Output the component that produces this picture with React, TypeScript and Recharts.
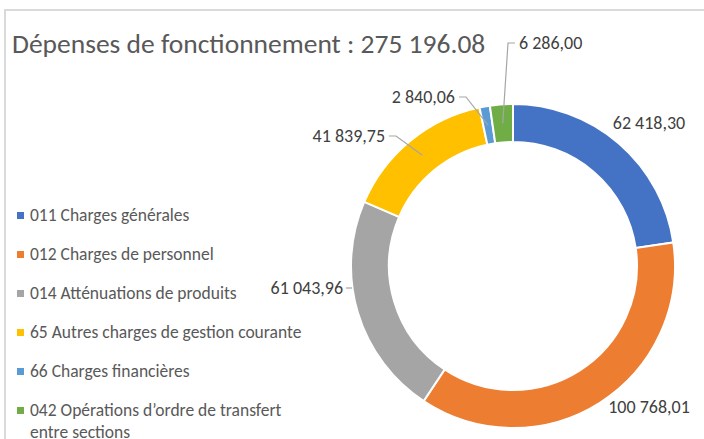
import { PieChart, Pie, Cell } from "recharts"

const CATEGORIES = [
  "011 Charges générales",
  "012 Charges de personnel",
  "014 Atténuations de produits",
  "65 Autres charges de gestion courante",
  "66 Charges financières",
  "042 Opérations d’ordre de transfert entre sections",
]
const VALUES = [62418.3, 100768.01, 61043.96, 41839.75, 2840.06, 6286.0]
const COLORS = ["#4472C4", "#ED7D31", "#A5A5A5", "#FFC000", "#5B9BD5", "#70AD47"]

const TEXT = "#595959"
const FONT = "Carlito, Lato, 'Open Sans', sans-serif"

// where Excel put each data label, relative to the pie centre
const LABEL_SPOTS = [
  { dx: 136, dy: -143, anchor: "middle", leader: "none" },
  { dx: 136, dy: 141, anchor: "middle", leader: "none" },
  { dx: -170, dy: 22, anchor: "end", leader: "tick" },
  { dx: -128, dy: -130, anchor: "end", leader: "elbow" },
  { dx: -58, dy: -169, anchor: "end", leader: "elbow" },
  { dx: 6, dy: -223, anchor: "start", leader: "elbow" },
]

function formatNumber(v: number, decimalSep: string) {
  const [int, dec] = v.toFixed(2).split(".")
  return int.replace(/\B(?=(\d{3})+(?!\d))/g, " ") + decimalSep + dec
}

const data = CATEGORIES.map((name, i) => ({ name, value: VALUES[i] }))
const total = VALUES.reduce((a, b) => a + b, 0)

const RAD = Math.PI / 180

function renderLabel(props: any) {
  const { cx, cy, midAngle, innerRadius, outerRadius, index, value } = props
  const spot = LABEL_SPOTS[index]
  const x = cx + spot.dx
  const y = cy + spot.dy
  const r = (innerRadius + outerRadius) / 2
  const ax = cx + r * Math.cos(-midAngle * RAD)
  const ay = cy + r * Math.sin(-midAngle * RAD)

  let path: string | null = null
  if (spot.leader === "elbow") {
    const sx = spot.anchor === "end" ? x + 4 : x - 4
    const kx = spot.anchor === "end" ? sx + 7 : sx - 7
    path = `M${sx},${y}L${kx},${y}L${ax},${ay}`
  } else if (spot.leader === "tick") {
    path = `M${x + 3},${y}L${x + 9},${y}`
  }

  return (
    <g key={`label-${index}`}>
      {path && <path d={path} stroke="#a6a6a6" strokeWidth={1.2} fill="none" />}
      <text
        x={x}
        y={y}
        textAnchor={spot.anchor}
        dominantBaseline="central"
        fill="#404040"
        fontSize={18}
        fontFamily={FONT}
      >
        {formatNumber(value, ",")}
      </text>
    </g>
  )
}

function ChartLegend() {
  return (
    <ul
      style={{
        position: "absolute",
        left: 17,
        top: 204,
        listStyle: "none",
        margin: 0,
        padding: 0,
        fontFamily: FONT,
      }}
    >
      {data.map((entry, i) => (
        <li
          key={entry.name}
          style={{
            display: "flex",
            alignItems: "flex-start",
            marginBottom: 17,
            lineHeight: "22px",
            fontSize: 17.5,
            color: TEXT,
          }}
        >
          <span
            style={{
              display: "inline-block",
              width: 7,
              height: 7,
              marginTop: 8,
              marginRight: 6,
              flexShrink: 0,
              backgroundColor: COLORS[i],
            }}
          />
          <span style={{ width: 290 }}>{entry.name}</span>
        </li>
      ))}
    </ul>
  )
}

export default function App() {
  return (
    <div
      style={{
        position: "absolute",
        left: 0,
        top: 0,
        width: 704,
        height: 439,
        overflow: "hidden",
        background: "#fff",
      }}
    >
      <div
        style={{
          position: "absolute",
          left: 4,
          top: 9,
          width: 720,
          height: 460,
          border: "2px solid #dadada",
        }}
      />
      <div
        style={{
          position: "absolute",
          left: 12,
          top: 27,
          fontFamily: FONT,
          fontSize: 27.5,
          lineHeight: "34px",
          color: TEXT,
          whiteSpace: "nowrap",
        }}
      >
        Dépenses de fonctionnement : {formatNumber(total, ".")}
      </div>
      <div style={{ position: "absolute", left: 0, top: 0 }}>
        <PieChart width={704} height={439} margin={{ top: 0, right: 0, bottom: 0, left: 0 }}>
          <Pie
            data={data}
            dataKey="value"
            nameKey="name"
            cx={513}
            cy={266}
            innerRadius={124}
            outerRadius={162}
            startAngle={90}
            endAngle={-270}
            stroke="#fff"
            strokeWidth={2}
            label={renderLabel}
            labelLine={false}
            isAnimationActive={false}
          >
            {data.map((entry, i) => (
              <Cell key={entry.name} fill={COLORS[i]} />
            ))}
          </Pie>
        </PieChart>
      </div>
      <ChartLegend />
    </div>
  )
}
